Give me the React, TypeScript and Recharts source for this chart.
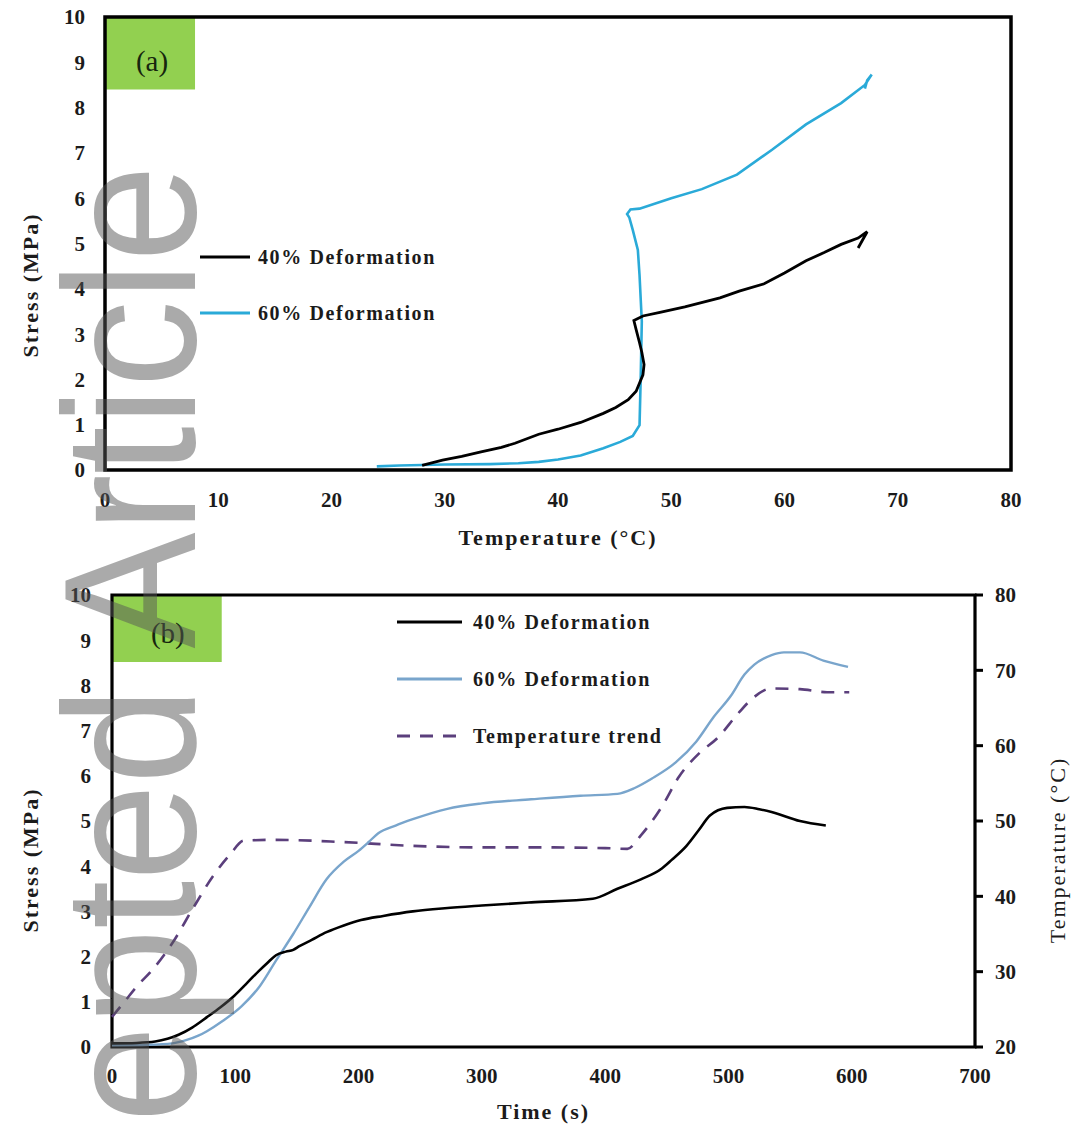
import React from "react";
import { LineChart, Line, XAxis, YAxis, ReferenceArea, Legend, Label } from "recharts";

// (a) stress vs temperature
const tempA40 = [28.0, 29.8, 31.5, 33.2, 35.0, 36.2, 38.3, 40.0, 42.0, 44.0, 45.1, 46.2, 46.9, 47.5, 47.6, 47.4, 47.2, 46.9, 46.7, 47.5, 49.0, 51.2, 54.3, 56.0, 58.2, 60.0, 61.9, 63.5, 65.0, 66.5, 67.3, 66.5];
const stressA40 = [0.1, 0.22, 0.3, 0.4, 0.5, 0.59, 0.79, 0.9, 1.05, 1.25, 1.38, 1.55, 1.74, 2.1, 2.33, 2.6, 2.81, 3.1, 3.3, 3.4, 3.48, 3.6, 3.8, 3.95, 4.11, 4.35, 4.62, 4.8, 4.98, 5.12, 5.26, 4.9];
const tempA60 = [24.0, 26.0, 30.0, 34.0, 36.5, 38.3, 40.0, 42.0, 44.0, 45.5, 46.6, 47.2, 47.3, 47.4, 47.2, 47.05, 46.6, 46.3, 46.1, 46.4, 47.2, 50.0, 52.7, 55.8, 58.9, 61.9, 65.0, 67.1, 67.7, 67.3, 67.1];
const stressA60 = [0.08, 0.1, 0.12, 0.13, 0.15, 0.18, 0.23, 0.32, 0.48, 0.62, 0.75, 0.99, 2.0, 3.28, 4.3, 4.86, 5.3, 5.57, 5.65, 5.75, 5.77, 6.0, 6.2, 6.52, 7.07, 7.63, 8.1, 8.5, 8.73, 8.6, 8.42];

// (b) stress and temperature vs time
const timeB40 = [0, 20, 35, 45, 54, 65, 77, 88, 99, 110, 119, 126, 133, 141, 147, 152, 162, 174, 188, 202, 220, 244, 270, 300, 340, 390, 410, 429, 446, 454, 466, 476, 485, 499, 513, 525, 535, 558, 579];
const stressB40 = [0.08, 0.09, 0.12, 0.18, 0.27, 0.43, 0.66, 0.88, 1.13, 1.43, 1.68, 1.86, 2.03, 2.11, 2.15, 2.23, 2.37, 2.54, 2.69, 2.81, 2.9, 3.0, 3.07, 3.13, 3.2, 3.28, 3.5, 3.71, 3.95, 4.14, 4.45, 4.8, 5.12, 5.29, 5.31, 5.26, 5.2, 5.0, 4.9];
const timeB60 = [0, 30, 49, 60, 70, 77, 90, 105, 120, 133, 147, 160, 174, 188, 200, 208, 216, 230, 244, 272, 300, 340, 380, 410, 424, 438, 457, 474, 488, 502, 513, 521, 535, 545, 558, 577, 597];
const stressB60 = [0.04, 0.05, 0.08, 0.15, 0.25, 0.35, 0.58, 0.9, 1.35, 1.91, 2.5, 3.09, 3.71, 4.1, 4.34, 4.53, 4.73, 4.9, 5.04, 5.27, 5.39, 5.48, 5.56, 5.6, 5.73, 5.94, 6.29, 6.76, 7.3, 7.77, 8.24, 8.46, 8.67, 8.73, 8.73, 8.55, 8.41];
const timeBTemp = [0, 10, 21, 32, 49, 66, 82, 96, 107, 133, 188, 244, 300, 347, 400, 418, 429, 446, 460, 477, 491, 508, 519, 535, 558, 580, 598];
const tempB = [24, 26, 28.2, 30.1, 33.8, 38.5, 42.7, 45.6, 47.4, 47.5, 47.2, 46.7, 46.5, 46.5, 46.4, 46.3, 48.1, 51.9, 55.9, 59.1, 61.0, 64.3, 66.2, 67.6, 67.5, 67.1, 67.1];

const tempTicksA = [0, 10, 20, 30, 40, 50, 60, 70, 80];
const timeTicksB = [0, 100, 200, 300, 400, 500, 600, 700];
const stressTicks = [0, 1, 2, 3, 4, 5, 6, 7, 8, 9, 10];
const tempTicksB = [20, 30, 40, 50, 60, 70, 80];

const zip = (xs: number[], ys: number[]) => xs.map((x, i) => ({ x, y: ys[i] }));

const SERIF = "'Liberation Serif', 'Times New Roman', serif";
const INK = "#1b1b1b";
const GREEN = "#92d050";
const tick = { fill: INK, fontSize: 21, fontWeight: 700, fontFamily: SERIF };

const axisTitle =
  (text: string, dx: number, dy: number, angle = 0, weight = 700) =>
  (props: any) => {
    const vb = props.viewBox || { x: 0, y: 0, width: 0, height: 0 };
    const cx = vb.x + vb.width / 2 + dx;
    const cy = vb.y + vb.height / 2 + dy;
    return (
      <text
        x={cx}
        y={cy}
        transform={angle ? `rotate(${angle} ${cx} ${cy})` : undefined}
        textAnchor="middle"
        dominantBaseline="central"
        fill={INK}
        fontSize={22}
        fontWeight={weight}
        fontFamily={SERIF}
        letterSpacing={2}
      >
        {text}
      </text>
    );
  };

const panelTag = (text: string, dx: number, dy: number) => (props: any) => {
  const vb = props.viewBox || { x: 0, y: 0, width: 0, height: 0 };
  return (
    <text
      x={vb.x + vb.width / 2 + dx}
      y={vb.y + vb.height / 2 + dy}
      textAnchor="middle"
      dominantBaseline="central"
      fill="#16260e"
      fontSize={29}
      fontFamily={SERIF}
    >
      {text}
    </text>
  );
};

type LegendItem = { name: string; color: string; width: number; dash?: string };

const legendA: LegendItem[] = [
  { name: "40% Deformation", color: "#000000", width: 3 },
  { name: "60% Deformation", color: "#2aaad8", width: 3 },
];
const legendB: LegendItem[] = [
  { name: "40% Deformation", color: "#000000", width: 3 },
  { name: "60% Deformation", color: "#79a5cc", width: 3 },
  { name: "Temperature trend", color: "#5b3f7c", width: 3, dash: "13 10" },
];

const makeLegend = (items: LegendItem[], lineLen: number, gap: number, textX: number) => () => (
  <svg width={textX + 220} height={items.length * gap + 10}>
    {items.map((it, i) => {
      const y = 17 + i * gap;
      return (
        <g key={it.name}>
          <line x1={5} x2={5 + lineLen} y1={y} y2={y} stroke={it.color} strokeWidth={it.width} strokeDasharray={it.dash} />
          <text x={textX} y={y + 7} fill={INK} fontSize={20} fontWeight={700} fontFamily={SERIF} letterSpacing={1.6}>
            {it.name}
          </text>
        </g>
      );
    })}
  </svg>
);

function ChartA() {
  return (
    <LineChart width={1073} height={560} margin={{ top: 17, right: 62, bottom: 0, left: 0 }}>
      <XAxis
        type="number"
        dataKey="x"
        domain={[0, 80]}
        ticks={tempTicksA}
        interval={0}
        axisLine={false}
        tickLine={false}
        tickSize={0}
        tickMargin={22}
        height={90}
        tick={tick}
      >
        <Label content={axisTitle("Temperature (°C)", 0, 22)} />
      </XAxis>
      <YAxis
        type="number"
        domain={[0, 10]}
        ticks={stressTicks}
        interval={0}
        axisLine={false}
        tickLine={false}
        tickSize={0}
        tickMargin={20}
        width={105}
        tick={tick}
      >
        <Label content={axisTitle("Stress (MPa)", -22.5, 41.5, -90)} />
      </YAxis>
      <ReferenceArea x1={0} x2={7.95} y1={8.4} y2={10} fill={GREEN} fillOpacity={1} stroke="none" label={panelTag("(a)", 2, 8)} />
      <Line data={zip(tempA60, stressA60)} dataKey="y" type="linear" stroke="#2aaad8" strokeWidth={2.6} dot={false} activeDot={false} isAnimationActive={false} />
      <Line data={zip(tempA40, stressA40)} dataKey="y" type="linear" stroke="#000000" strokeWidth={2.8} dot={false} activeDot={false} isAnimationActive={false} />
      <ReferenceArea x1={0} x2={80} y1={0} y2={10} fill="none" stroke="#000" strokeWidth={3.5} />
      <Legend layout="vertical" align="center" verticalAlign="middle" wrapperStyle={{ left: 195, top: 240 }} content={makeLegend(legendA, 50, 56, 63)} />
    </LineChart>
  );
}

function ChartB() {
  return (
    <LineChart width={1073} height={566} margin={{ top: 35, right: 0, bottom: 0, left: 0 }}>
      <XAxis
        type="number"
        dataKey="x"
        domain={[0, 700]}
        ticks={timeTicksB}
        interval={0}
        axisLine={false}
        tickLine={false}
        tickSize={0}
        tickMargin={21}
        height={79}
        tick={tick}
      >
        <Label content={axisTitle("Time (s)", 0, 24.5)} />
      </XAxis>
      <YAxis
        yAxisId="stress"
        type="number"
        domain={[0, 10]}
        ticks={stressTicks}
        interval={0}
        axisLine={false}
        tickLine={false}
        tickSize={0}
        tickMargin={21}
        width={112}
        tick={tick}
      >
        <Label content={axisTitle("Stress (MPa)", -26, 39, -90)} />
      </YAxis>
      <YAxis
        yAxisId="temp"
        orientation="right"
        type="number"
        domain={[20, 80]}
        ticks={tempTicksB}
        interval={0}
        axisLine={false}
        tickLine={{ stroke: "#000", strokeWidth: 3 }}
        tickSize={8}
        tickMargin={12}
        width={98}
        tick={{ ...tick, textAnchor: "start" }}
      >
        <Label content={axisTitle("Temperature (°C)", 33, 29, -90, 400)} />
      </YAxis>
      <ReferenceArea yAxisId="stress" x1={0} x2={89} y1={8.52} y2={10} fill={GREEN} fillOpacity={1} stroke="none" label={panelTag("(b)", 1, 5)} />
      <Line yAxisId="temp" data={zip(timeBTemp, tempB)} dataKey="y" type="monotone" stroke="#5b3f7c" strokeWidth={2.6} strokeDasharray="13 10" dot={false} activeDot={false} isAnimationActive={false} />
      <Line yAxisId="stress" data={zip(timeB60, stressB60)} dataKey="y" type="monotone" stroke="#79a5cc" strokeWidth={2.4} dot={false} activeDot={false} isAnimationActive={false} />
      <Line yAxisId="stress" data={zip(timeB40, stressB40)} dataKey="y" type="monotone" stroke="#000000" strokeWidth={2.6} dot={false} activeDot={false} isAnimationActive={false} />
      <ReferenceArea yAxisId="stress" x1={0} x2={700} y1={0} y2={10} fill="none" stroke="#000" strokeWidth={3.2} />
      <Legend layout="vertical" align="center" verticalAlign="middle" wrapperStyle={{ left: 392, top: 605 - 560 }} content={makeLegend(legendB, 65, 57, 81)} />
    </LineChart>
  );
}

export default function App() {
  return (
    <div style={{ position: "absolute", left: 0, top: 0, width: 1073, height: 1126, background: "#fff", overflow: "hidden" }}>
      <div style={{ position: "absolute", left: 0, top: 0 }}>
        <ChartA />
      </div>
      <div style={{ position: "absolute", left: 0, top: 560 }}>
        <ChartB />
      </div>
      <svg width={1073} height={1126} style={{ position: "absolute", left: 0, top: 0, pointerEvents: "none" }}>
        <text
          transform="translate(195,165) rotate(-90) scale(1,1.08)"
          textAnchor="end"
          fontFamily="'Liberation Sans', Arial, sans-serif"
          fontSize={174}
          fill="#555555"
          fillOpacity={0.5}
        >
          Accepted Article
        </text>
      </svg>
    </div>
  );
}
